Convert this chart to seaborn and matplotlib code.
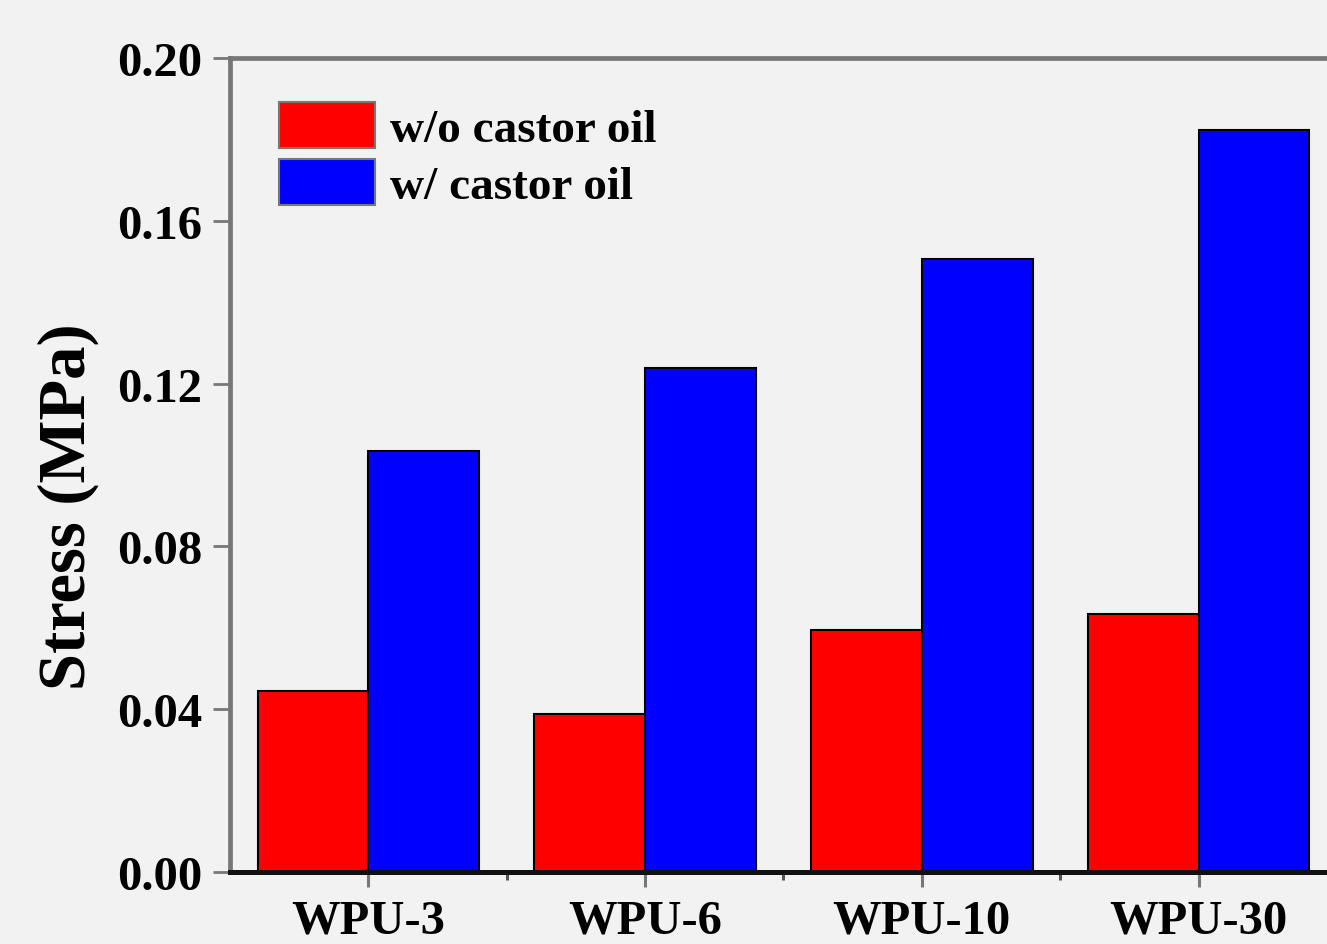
import pandas as pd
import matplotlib.pyplot as plt
import seaborn as sns
from matplotlib.patches import Patch

samples = ["WPU-3", "WPU-6", "WPU-10", "WPU-30"]
without_oil = [0.0445, 0.0388, 0.0595, 0.0634]
with_oil = [0.1034, 0.1238, 0.1506, 0.1823]
groups = ["w/o castor oil", "w/ castor oil"]
colors = ["#ff0000", "#0000ff"]

df = pd.DataFrame({
    "sample": samples * 2,
    "stress": without_oil + with_oil,
    "group": [groups[0]] * len(samples) + [groups[1]] * len(samples),
})

sns.set_style("ticks")
plt.rcParams['font.family'] = ['Liberation Serif', 'DejaVu Serif']
plt.rcParams['font.weight'] = 'bold'
plt.rcParams['text.color'] = 'black'
plt.rcParams['axes.labelcolor'] = 'black'
plt.rcParams['xtick.labelcolor'] = 'black'
plt.rcParams['ytick.labelcolor'] = 'black'

bg = "#f2f2f2"
fig = plt.figure(figsize=(13.27, 9.45), dpi=100, facecolor=bg)
ax = fig.add_axes([0.1733, 0.0762, 0.8342, 0.8614])
ax.set_facecolor(bg)

sns.barplot(data=df, x="sample", y="stress", hue="group", palette=colors,
            width=0.8, saturation=1, edgecolor="black", linewidth=1.5,
            gap=0, ax=ax, legend=False)

ax.set_xlim(-0.5, 3.5)
ax.set_ylim(0, 0.20)
ax.set_yticks([0, 0.04, 0.08, 0.12, 0.16, 0.20])
ax.set_yticklabels(["0.00", "0.04", "0.08", "0.12", "0.16", "0.20"])
ax.set_xticks([0.5, 1.5, 2.5], minor=True)

# spines
for s in ["left", "top"]:
    ax.spines[s].set_color("#777777")
    ax.spines[s].set_linewidth(3.4)
ax.spines["right"].set_visible(False)
ax.spines["bottom"].set_color("#111111")
ax.spines["bottom"].set_linewidth(3.6)
ax.spines["bottom"].set_zorder(5)

ax.tick_params(axis="y", which="major", length=12, width=2, color="#777777",
               labelsize=35, pad=8)
ax.tick_params(axis="x", which="major", length=11, width=2.2, color="#777777",
               labelsize=35, pad=8)
ax.tick_params(axis="x", which="minor", length=6, width=2.2, color="#555555")
for lab in ax.get_xticklabels() + ax.get_yticklabels():
    lab.set_fontweight("bold")

ax.set_xlabel("")
ax.set_ylabel("Stress (MPa)", fontsize=48, fontweight="bold", labelpad=13)
ax.yaxis.label.set_y(0.45)

handles = [Patch(facecolor=c, edgecolor="#777777", linewidth=1.5) for c in colors]
ax.legend(handles, groups, loc="upper left", bbox_to_anchor=(0.044, 0.946),
          frameon=False, prop={"size": 34, "weight": "bold"},
          handlelength=2.05, handleheight=1.12, handletextpad=0.3,
          labelspacing=0.17, borderaxespad=0, borderpad=0)

fig.savefig("out.png", dpi=100, facecolor=bg)
